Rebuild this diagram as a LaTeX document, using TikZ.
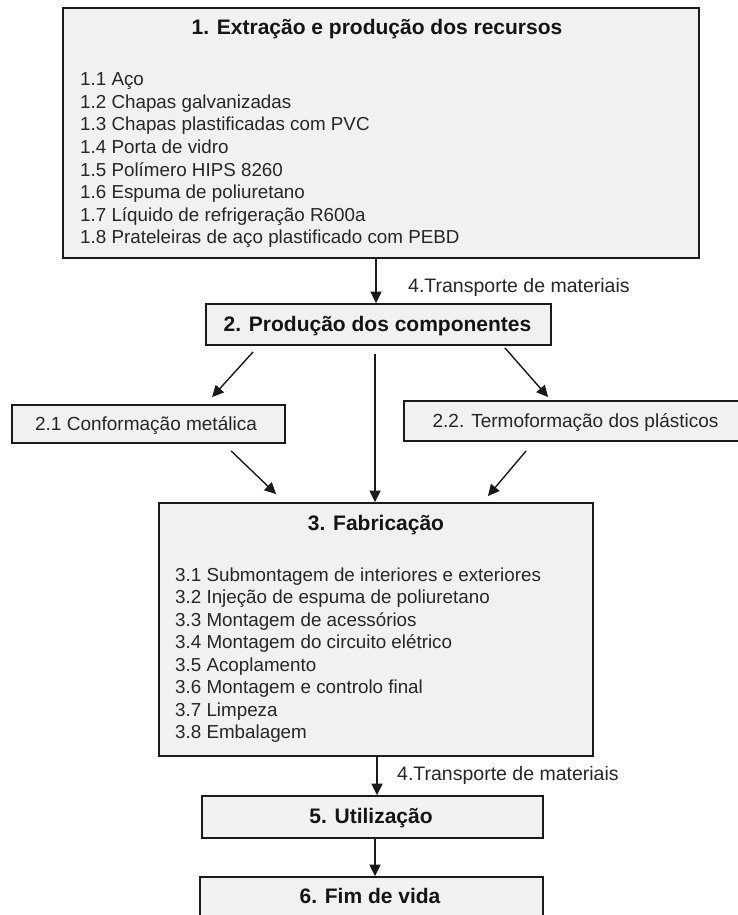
\documentclass[tikz,border=0pt]{standalone}
\usepackage{fontspec}
\setmainfont{Liberation Sans}
\usetikzlibrary{arrows.meta}
\definecolor{boxfill}{HTML}{F1F1F1}
\definecolor{boxline}{HTML}{1A1A1A}
\definecolor{txt}{HTML}{151515}
\definecolor{itemtxt}{HTML}{262626}
\begin{document}
\begin{tikzpicture}[x=1pt,y=-1pt,
 box/.style={draw=boxline, fill=boxfill, line width=1.8pt, inner sep=0pt},
 ttl/.style={font=\fontsize{21}{25}\selectfont\bfseries, text=txt, anchor=base, inner sep=0pt},
 itm/.style={font=\fontsize{18.8}{22.5}\selectfont, text=itemtxt, anchor=base west, inner sep=0pt},
 sub/.style={font=\fontsize{19}{23}\selectfont, text=itemtxt, anchor=base, inner sep=0pt},
 lbl/.style={font=\fontsize{19.5}{23}\selectfont, text=itemtxt, anchor=base west, inner sep=0pt},
 arr/.style={draw=boxline, line width=1.4pt, -{Triangle[length=11.5pt,width=11pt]}}]
\useasboundingbox (0,0) rectangle (737,915);
\fill[white] (0,0) rectangle (737,915);
% boxes
\node[box, minimum width=636pt, minimum height=250pt] (b1) at (381,133) {};
\node[box, minimum width=345pt, minimum height=41pt] (b2) at (378.5,324.5) {};
\node[box, minimum width=273pt, minimum height=38pt] (b21) at (148.5,424) {};
\node[box, minimum width=343pt, minimum height=40pt] (b22) at (575.5,421) {};
\node[box, minimum width=434pt, minimum height=253pt] (b3) at (376,629.5) {};
\node[box, minimum width=341pt, minimum height=42pt] (b5) at (372.5,817) {};
\node[box, minimum width=343pt, minimum height=43pt] (b6) at (371.5,898.5) {};
% titles
\node[ttl] (t1) at (377,35) {1. Extração e produção dos recursos};
\node[ttl] (t2) at (377.5,331) {2. Produção dos componentes};
\node[ttl] (t3) at (376,530) {3. Fabricação};
\node[ttl] (t5) at (371,823) {5. Utilização};
\node[ttl] (t6) at (370,903) {6. Fim de vida};
\node[sub] (t21) at (146,430) {2.1 Conformação metálica};
\node[sub] (t22) at (575.5,427) {2.2. Termoformação dos plásticos};
% items
\foreach \t [count=\i] in {1.1 Aço, 1.2 Chapas galvanizadas, 1.3 Chapas plastificadas com PVC, 1.4 Porta de vidro, 1.5 Polímero HIPS 8260, 1.6 Espuma de poliuretano, 1.7 Líquido de refrigeração R600a, 1.8 Prateleiras de aço plastificado com PEBD}
  \node[itm] (ia\i) at (80,{86+22.5*(\i-1)}) {\t};
\foreach \t [count=\i] in {3.1 Submontagem de interiores e exteriores, 3.2 Injeção de espuma de poliuretano, 3.3 Montagem de acessórios, 3.4 Montagem do circuito elétrico, 3.5 Acoplamento, 3.6 Montagem e controlo final, 3.7 Limpeza, 3.8 Embalagem}
  \node[itm] (ib\i) at (175,{581+22.5*(\i-1)}) {\t};
% labels
\node[lbl] (l1) at (408,292) {4.Transporte de materiais};
\node[lbl] (l2) at (397,780) {4.Transporte de materiais};
% arrows
\draw[arr] ([xshift=-5pt]b1.south) -- ([xshift=-5pt]b1.south |- b2.north);
\draw[arr] ([xshift=48pt,yshift=-6pt]b2.south west) -- ([xshift=201pt,yshift=7pt]b21.north west);
\draw[arr] ([xshift=-47pt,yshift=-2pt]b2.south east) -- ([xshift=145pt,yshift=3pt]b22.north west);
\draw[arr] ([xshift=-3.5pt,yshift=-8pt]b2.south) -- ([xshift=-3.5pt]b2.south |- b3.north);
\draw[arr] ([xshift=220pt,yshift=-7pt]b21.south west) -- ([xshift=118pt,yshift=8pt]b3.north west);
\draw[arr] ([xshift=123pt,yshift=-9pt]b22.south west) -- ([xshift=-106pt,yshift=6pt]b3.north east);
\draw[arr] ([xshift=1pt]b3.south) -- ([xshift=1pt]b3.south |- b5.north);
\draw[arr] ([xshift=2.5pt]b5.south) -- ([xshift=2.5pt]b5.south |- b6.north);
\end{tikzpicture}
\end{document}
